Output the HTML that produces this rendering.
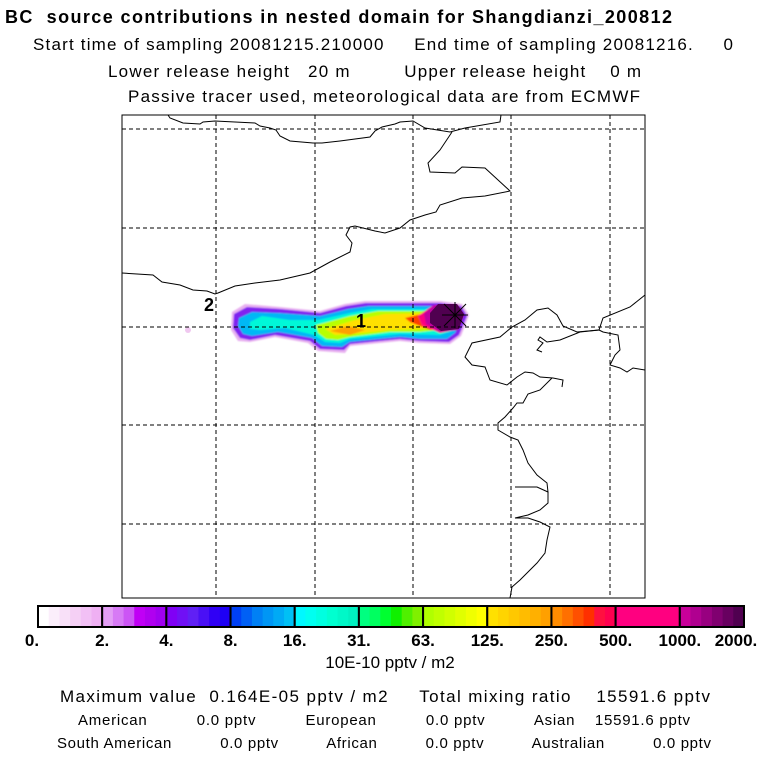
<!DOCTYPE html>
<html><head><meta charset="utf-8"><style>
body{margin:0;background:#fff;width:768px;height:768px;overflow:hidden}
svg{display:block;font-family:"Liberation Sans",sans-serif}
svg text{white-space:pre}
</style></head><body>
<svg width="768" height="768" viewBox="0 0 768 768">
<defs><filter id="bl"><feGaussianBlur stdDeviation="0.8"/></filter>
<clipPath id="mapclip"><rect x="122" y="115" width="523" height="483"/></clipPath></defs>
<text x="5" y="23" font-size="18" font-weight="bold" textLength="667" xml:space="preserve">BC  source contributions in nested domain for Shangdianzi_200812</text>
<text x="33" y="50" font-size="17" textLength="700" xml:space="preserve">Start time of sampling 20081215.210000     End time of sampling 20081216.     0</text>
<text x="108" y="77" font-size="17" textLength="533" xml:space="preserve">Lower release height   20 m         Upper release height    0 m</text>
<text x="128" y="102" font-size="17" textLength="512" xml:space="preserve">Passive tracer used, meteorological data are from ECMWF</text>

<g clip-path="url(#mapclip)">
<g filter="url(#bl)">
<polygon fill="#e8b0f0" points="232,312 245,304 280,307 320,311 345,304 365,301 440,301 462,304 469,315 461,336 450,344 420,343 400,341 350,346 345,353 318,351 308,343 275,337 250,342 238,341 231,330"/>
<polygon fill="#8020f0" points="234,314 247,307 280,309 320,313 346,306 366,303 440,303 461,306 467,316 459,335 449,342 420,341 400,339 350,344 344,350 320,349 310,341 275,335 250,340 240,338 233,328"/>
<polygon fill="#00b8f5" points="239,318 252,312 280,313 320,316 348,309 368,306 440,306 458,309 463,318 455,333 447,339 420,339 400,337 350,342 342,347 322,346 312,338 278,332 252,336 243,334 238,326"/>
<polygon fill="#00f8d8" points="250,322 262,316 290,320 318,320 350,313 372,309 440,309 455,312 460,320 452,331 440,335 400,334 350,339 340,343 325,342 314,335 285,328 260,330 250,329"/>
<polygon fill="#b8ff00" points="316,325 350,316 378,311 440,311 452,315 456,322 448,329 420,332 390,332 350,337 338,340 326,339 318,333"/>
<polygon fill="#ffe000" points="325,329 355,320 385,314 430,313 450,318 450,326 420,329 390,330 352,334 335,335"/>
<polygon fill="#ffa000" points="330,331 348,326 365,330 350,335"/>
<polygon fill="#ff4000" points="405,318 430,312 450,316 448,328 430,330 410,322"/>
<polygon fill="#ff0080" points="418,316 432,306 456,306 462,316 455,330 440,333 422,325"/>
<polygon fill="#c000a0" points="424,314 434,305 458,305 464,315 458,330 440,332 426,324"/>
</g>
<polygon fill="#500050" points="430,313 438,304 457,304 464,314 459,329 441,331 430,323"/>
<circle cx="188" cy="330" r="3" fill="#f0c8f0"/>
<g stroke="#000" stroke-width="1" stroke-dasharray="4,3">
<line x1="216" y1="115" x2="216" y2="598"/><line x1="315" y1="115" x2="315" y2="598"/>
<line x1="413" y1="115" x2="413" y2="598"/><line x1="511" y1="115" x2="511" y2="598"/>
<line x1="610" y1="115" x2="610" y2="598"/>
<line x1="122" y1="129" x2="645" y2="129"/><line x1="122" y1="228" x2="645" y2="228"/>
<line x1="122" y1="327" x2="645" y2="327"/><line x1="122" y1="425" x2="645" y2="425"/>
<line x1="122" y1="524" x2="645" y2="524"/>
</g>
<g fill="none" stroke="#000" stroke-width="1">
<path d="M168,115 L170,118 183,123 200,124 203,122 215,121 255,123 260,126 270,128 276,130 280,136 290,141 313,143 322,143 340,141 370,137 375,131 382,127 395,124 400,122 413,121 425,128 450,132 465,128 500,122 501,115"/>
<path d="M452,132 L440,150 428,163 430,172 455,173 462,167 485,168 510,191 485,196 462,198 440,205 436,212 425,215 413,219 410,220 400,228 385,233 375,231 355,226 350,227 346,235 352,243 350,252 330,262 310,273 280,280 255,283 235,286 218,293 215,294 207,291 193,290 180,285 162,282 153,275 122,273"/>
<path d="M645,295 L630,307 603,318 599,330 580,332 560,340 547,342 540,337 538,340 543,343 537,350 542,352"/>
<path d="M599,330 L577,332 563,326 557,315 548,308 537,310 525,320 512,327 500,337 472,343 465,357 472,365 485,367 490,380 507,385 517,377 525,372 533,373 540,377 553,378 563,380 562,387"/>
<path d="M552,378 L540,390 528,394 523,403 517,403 513,408 505,417 498,423 498,430 510,437 518,440 523,450 528,463 537,475 547,483 548,492 537,487 515,487"/>
<path d="M548,492 L548,503 540,510 528,515 515,518 528,518 540,522 550,527 547,540 545,553 537,563 527,573 520,580 512,587 510,598"/>
<path d="M599,330 L603,332 618,335 620,350 615,355 610,365 620,368 627,372 633,368 645,370"/>
</g>
<g stroke="#000" stroke-width="1">
<line x1="442" y1="315" x2="468" y2="315"/><line x1="455" y1="302" x2="455" y2="328"/>
<line x1="444" y1="304" x2="466" y2="326"/><line x1="444" y1="326" x2="466" y2="304"/>
</g>
<text x="356" y="327" font-size="18" font-weight="bold">1</text>
<text x="204" y="311" font-size="18" font-weight="bold">2</text>
</g>
<rect x="122" y="115" width="523" height="483" fill="none" stroke="#000"/>

<g id="cbar"></g>
<text x="390" y="668" font-size="17" text-anchor="middle">10E-10 pptv / m2</text>
<text x="60" y="702" font-size="17" textLength="650" xml:space="preserve">Maximum value  0.164E-05 pptv / m2     Total mixing ratio    15591.6 pptv</text>
<text x="78" y="725" font-size="15" textLength="612" xml:space="preserve">American          0.0 pptv          European          0.0 pptv          Asian    15591.6 pptv</text>
<text x="57" y="748" font-size="15" textLength="654" xml:space="preserve">South American          0.0 pptv          African          0.0 pptv          Australian          0.0 pptv</text>
</svg>
<script>
const levelLabels=["0.","2.","4.","8.","16.","31.","63.","125.","250.","500.","1000.","2000."];
const segColors=[
["#ffffff","#fbeefb","#f8e0f8","#f5d0f5","#f2c0f5","#efb0f3"],
["#e39ef5","#d77af5","#cc55f5","#c000f5","#b000f0","#a000f0"],
["#8000f5","#7010f5","#6020f5","#4a10f5","#3000f5","#1e00f5"],
["#0040f5","#0060f5","#0080f5","#0096f5","#00aaf5","#00c0f5"],
["#00f8ff","#00fff0","#00ffe0","#00ffd0","#00f8c8","#00f0c0"],
["#00ff80","#00ff60","#00ff30","#10f000","#50f000","#80f000"],
["#b0ff00","#c0ff00","#d0ff00","#e0ff00","#f0ff00","#ffff00"],
["#ffe000","#ffd400","#ffc800","#ffbc00","#ffb000","#ffa000"],
["#ff8c00","#ff7000","#ff5000","#ff3000","#ff1040","#ff0050"],
["#ff0080","#ff0080","#ff0080","#ff0080","#ff0080","#ff0080"],
["#c8009a","#b00090","#980080","#800070","#680060","#500050"]];
const NS="http://www.w3.org/2000/svg";
const g=document.getElementById('cbar');
const x0=38,x1=744,y0=606,h=21;
const sw=(x1-x0)/segColors.length;
function sx(i){return x0+i*sw;}
segColors.forEach((cols,i)=>{
  const cw=sw/cols.length;
  cols.forEach((c,j)=>{
    const r=document.createElementNS(NS,'rect');
    r.setAttribute('x',sx(i)+j*cw);r.setAttribute('y',y0);
    r.setAttribute('width',cw+0.6);r.setAttribute('height',h);r.setAttribute('fill',c);
    
    
    g.appendChild(r);
  });
  const b=document.createElementNS(NS,'rect');
  b.setAttribute('x',sx(i));b.setAttribute('y',y0);b.setAttribute('width',sw);b.setAttribute('height',h);
  b.setAttribute('fill','none');b.setAttribute('stroke','#000');b.setAttribute('stroke-width','2');
  
  
  g.appendChild(b);
});
levelLabels.forEach((l,i)=>{
  const t=document.createElementNS(NS,'text');
  t.setAttribute('x',sx(i)+(i===0?-6:0)+(i===levelLabels.length-1?-8:0));t.setAttribute('y',646);t.setAttribute('text-anchor','middle');
  t.setAttribute('font-size','17');t.setAttribute('font-weight','bold');
  t.textContent=l;
  
  
  g.appendChild(t);
});
</script>
</body></html>
